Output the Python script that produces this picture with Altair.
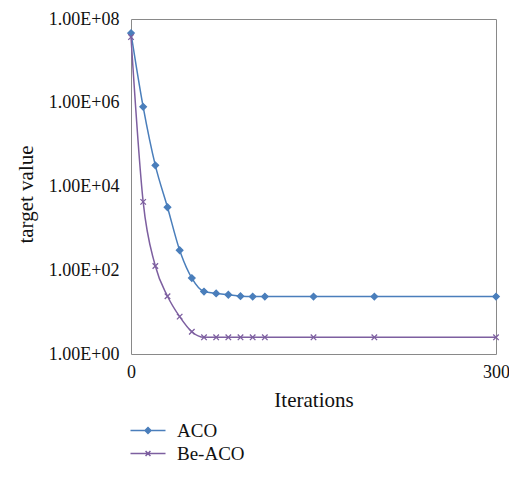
import altair as alt
import pandas as pd

iterations = [0, 10, 20, 30, 40, 50, 60, 70, 80, 90, 100, 110, 150, 200, 300]
aco = [4.6e7, 8.0e5, 3.2e4, 3.2e3, 3.0e2, 65, 31, 28, 26, 24, 23.5, 23.5, 23.5, 23.5, 23.5]
be_aco = [3.7e7, 4.3e3, 126, 24, 7.8, 3.4, 2.5, 2.5, 2.5, 2.5, 2.5, 2.5, 2.5, 2.5, 2.5]

series_names = ["ACO", "Be-ACO"]
series_colors = ["#4A7EBB", "#7D5FA0"]

x_ticks = [0, 300]
y_ticks = [1, 1e2, 1e4, 1e6, 1e8]
y_tick_labels = ["1.00E+00", "1.00E+02", "1.00E+04", "1.00E+06", "1.00E+08"]

FONT = "Liberation Serif, Times New Roman, serif"

rows = []
for name, vals in zip(series_names, [aco, be_aco]):
    for it, v in zip(iterations, vals):
        rows.append({"iteration": it, "value": v, "series": name})
df = pd.DataFrame(rows)

label_expr = " : ".join(
    f"datum.value == {v:g} ? '{lab}'" for v, lab in zip(y_ticks, y_tick_labels)
) + " : ''"

x_enc = alt.X(
    "iteration:Q",
    scale=alt.Scale(domain=[0, 300], nice=False, zero=False),
    axis=alt.Axis(values=x_ticks, title="Iterations", grid=False, ticks=False,
                  domain=False, labelPadding=9, labelFontSize=18, titleFontSize=21,
                  titleFontWeight="normal", titleY=52, titleBaseline="alphabetic",
                  labelColor="#111", titleColor="#111", labelFlush=False),
)
y_enc = alt.Y(
    "value:Q",
    scale=alt.Scale(type="log", domain=[1, 1e8], nice=False),
    axis=alt.Axis(values=y_ticks, labelExpr=label_expr, title="target value",
                  grid=False, ticks=False, domain=False, labelPadding=12,
                  labelFontSize=18, titleFontSize=21, titleFontWeight="normal",
                  titleX=-99, titleY=175, titleAngle=270, titleBaseline="alphabetic",
                  titleAlign="center", labelColor="#111", titleColor="#111"),
)

base = alt.Chart(df).encode(x=x_enc, y=y_enc)

color_scale = alt.Scale(domain=series_names, range=series_colors)

lines = base.mark_line(interpolate="monotone", strokeWidth=1.5).encode(
    color=alt.Color("series:N", scale=color_scale, legend=None)
)

x_marker = "M-0.85,-0.85L0.85,0.85M-0.85,0.85L0.85,-0.85"
points = base.mark_point(size=42, opacity=1, strokeWidth=1.3).encode(
    fill=alt.Fill("series:N", scale=color_scale, legend=None),
    stroke=alt.Stroke("series:N", scale=color_scale, legend=None),
    shape=alt.Shape("series:N", scale=alt.Scale(domain=series_names, range=["diamond", x_marker]),
                    legend=None),
)

leg_aco = "M-5,0L5,0M-0.85,0L0,-0.85L0.85,0L0,0.85Z"
leg_be = "M-5,0L5,0M-0.7,-0.7L0.7,0.7M-0.7,0.7L0.7,-0.7"
legend_def = alt.Legend(
    title=None, orient="none", legendX=7.5, legendY=402, direction="vertical",
    symbolSize=49, symbolStrokeWidth=1.5, symbolOpacity=1,
    labelFont=FONT, labelFontSize=19, labelColor="#111", labelOffset=19.5,
    rowPadding=3,
)
legend_layer = base.transform_filter("false").mark_point(size=49, opacity=1, strokeWidth=1.5).encode(
    fill=alt.Fill("series:N", scale=color_scale, legend=legend_def),
    stroke=alt.Stroke("series:N", scale=color_scale, legend=legend_def),
    shape=alt.Shape("series:N", scale=alt.Scale(domain=series_names, range=[leg_aco, leg_be]),
                    legend=legend_def),
)

chart = (
    alt.layer(lines, points, legend_layer)
    .resolve_scale(fill="independent", stroke="independent", shape="independent")
    .properties(width=365, height=335, autosize=alt.AutoSizeParams(type="none"),
                padding={"left": 123, "top": 11, "right": 13, "bottom": 112})
    .configure_view(stroke="#898989", strokeWidth=1)
    .configure_axis(labelFont=FONT, titleFont=FONT)
    .configure_legend(labelFont=FONT)
)

chart.save("out.html", embed_options={"renderer": "svg", "actions": False})
